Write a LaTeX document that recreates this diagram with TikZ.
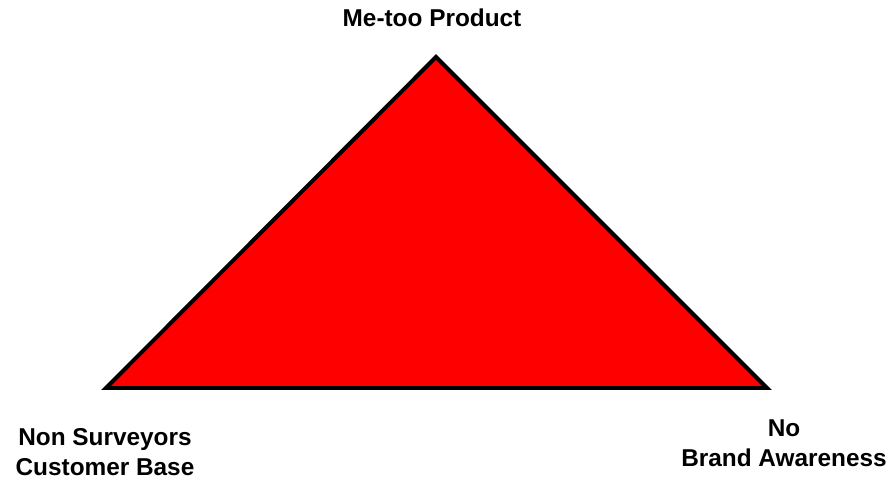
\documentclass[tikz,border=0pt]{standalone}
\usepackage{fontspec}
\setmainfont{Liberation Sans}
\begin{document}
\begin{tikzpicture}[x=0.03cm, y=-0.03cm,
  corner/.style={font=\bfseries\fontsize{20.8}{25.2}\selectfont, align=center, inner sep=0pt}]

  \useasboundingbox (0,0) rectangle (890,480);

  \coordinate (T) at (436,57);
  \coordinate (L) at (106,388);
  \coordinate (R) at (767,388);

  % Triangle
  \filldraw[fill=red, draw=black, line width=3.4pt, line join=miter] (T) -- (R) -- (L) -- cycle;

  \node[corner] (metoo) at (432,18) {Me-too Product};
  \node[corner] (base)  at (105,452) {Non Surveyors\\Customer Base};
  \node[corner] (brand) at (784,443) {No\\Brand Awareness};

\end{tikzpicture}
\end{document}
